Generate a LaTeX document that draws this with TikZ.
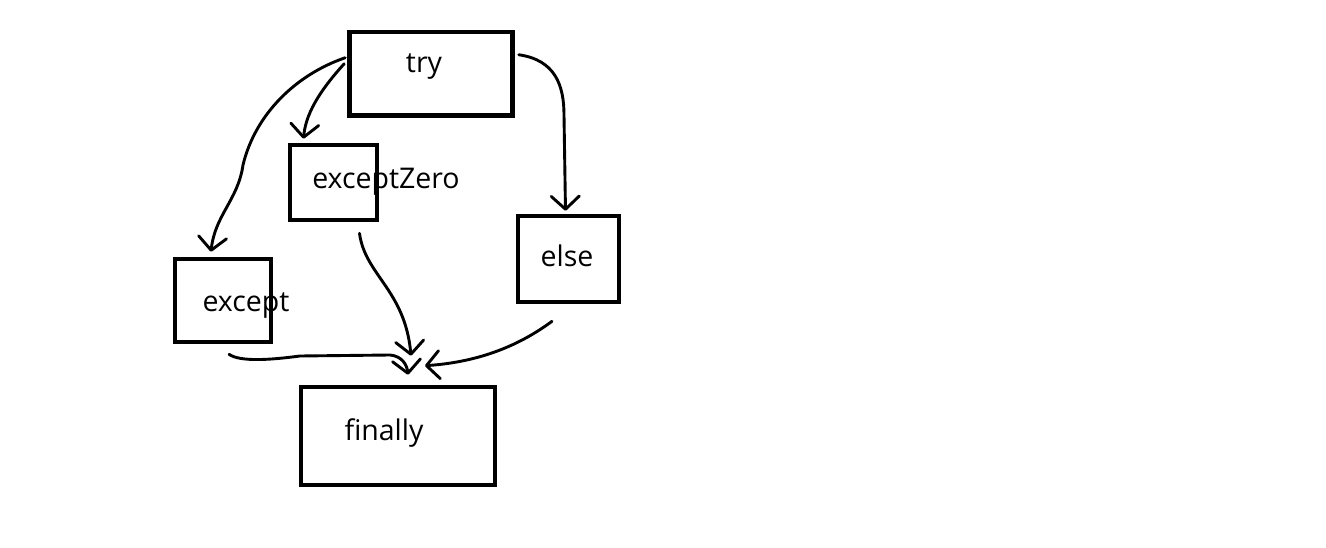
\documentclass[tikz,border=0pt]{standalone}
\usepackage{fontspec}
\setmainfont{Open Sans}
\usetikzlibrary{arrows.meta,calc}
\tikzset{
  x=1pt, y=-1pt,
  box/.style={draw, line width=4.6pt, inner sep=0pt, rectangle},
  lbl/.style={anchor=base, inner sep=0pt, font=\fontsize{28.5}{31}\selectfont},
  arr/.style={line width=2.9pt, line cap=round, line join=round,
    -{Straight Barb[length=13pt,width=28pt,line cap=round,line join=round]}}
}
\begin{document}
\begin{tikzpicture}
\fill[white] (0,0) rectangle (1326,548);
\useasboundingbox (0,0) rectangle (1326,548);
% boxes
\node[box, minimum width=163pt, minimum height=83.5pt] (try) at (431,73.75) {};
\node[box, minimum width=87pt, minimum height=75pt] (ez) at (333.5,182.5) {};
\node[box, minimum width=96pt, minimum height=83pt] (exc) at (223,300.5) {};
\node[box, minimum width=101pt, minimum height=86pt] (els) at (568.5,259) {};
\node[box, minimum width=194pt, minimum height=98pt] (fin) at (398,436) {};
% labels
\node[lbl] (ttry) at (424,73) {try};
\node[lbl] (tez) at (386,189) {exceptZero};
\node[lbl] (texc) at (246,312) {except};
\node[lbl] (tels) at (567,267) {else};
\node[lbl] (tfin) at (384,440) {finally};
% connectors
\draw[arr] ([shift={(-2,-16)}]try.west) .. controls (295,75) and (255,115) .. (243,165)
  .. controls (238,200) and (215,215) .. ([shift={(-12,-5)}]exc.north);
\draw[arr] ([shift={(-3,-10)}]try.west) .. controls (325,85) and (306,110) .. ([shift={(-30,-4)}]ez.north);
\draw[arr] ([shift={(4,-19)}]try.east) .. controls (555,60) and (564,85) .. (564,115)
  -- ([shift={(-3,-3)}]els.north);
\draw[arr] ([shift={(26,11)}]ez.south) .. controls (365,275) and (405,290) .. ([shift={(13,-29)}]fin.north);
\draw[arr] ([shift={(6,10)}]exc.south) .. controls (240,362) and (270,360) .. (300,356)
  -- (390,355) .. controls (402,356) and (407,365) .. ([shift={(10,-10)}]fin.north);
\draw[arr] ([shift={(-16.5,17)}]els.south) .. controls (520,345) and (480,362) .. ([shift={(27,-19)}]fin.north);
\end{tikzpicture}
\end{document}
